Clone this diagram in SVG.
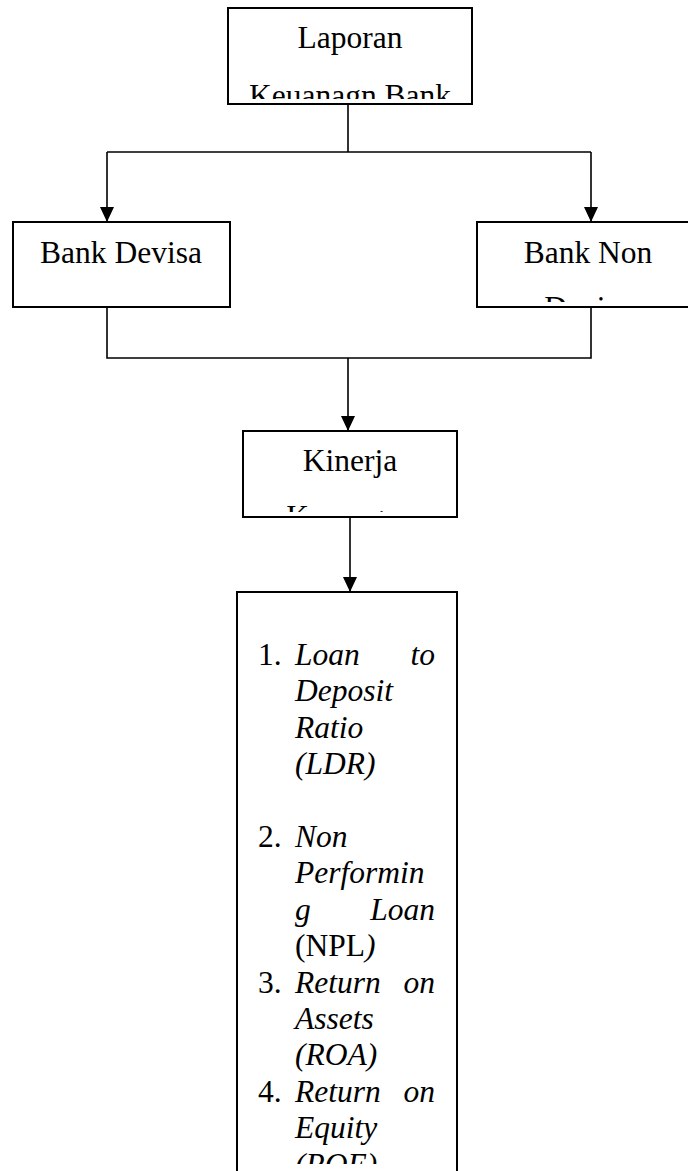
<svg xmlns="http://www.w3.org/2000/svg" width="688" height="1171" viewBox="0 0 688 1171">
<style>
.box{fill:#fff;stroke:#000;stroke-width:2}
.t{font-family:"Liberation Serif","Times New Roman",serif;font-size:31.5px;fill:#000}
.c{text-anchor:middle}
.e{text-anchor:end}
.i{font-style:italic}
.ln{fill:none;stroke:#000;stroke-width:1.6}
</style>
<defs>
<marker id="arr" viewBox="0 0 15 14" refX="15" refY="7" markerWidth="15" markerHeight="14" markerUnits="userSpaceOnUse" orient="auto">
<path d="M0,0 L15,7 L0,14 z" fill="#000"/>
</marker>
<clipPath id="cTop"><rect x="229" y="9" width="242" height="90"/></clipPath>
<clipPath id="cNon"><rect x="478" y="223" width="220" height="79"/></clipPath>
<clipPath id="cKin"><rect x="244" y="432" width="212" height="80"/></clipPath>
<clipPath id="cList"><rect x="238" y="593" width="218" height="571"/></clipPath>
</defs>
<rect width="688" height="1171" fill="#fff"/>
<g id="connectors">
<path class="ln" d="M348,104 V152 M107,152 H591"/>
<path class="ln" d="M107,152 V222" marker-end="url(#arr)"/>
<path class="ln" d="M591,152 V222" marker-end="url(#arr)"/>
<path class="ln" d="M107,307 V358 H591 V307"/>
<path class="ln" d="M348,358 V431" marker-end="url(#arr)"/>
<path class="ln" d="M350,517 V592" marker-end="url(#arr)"/>
</g>
<g id="laporan">
<rect class="box" x="228" y="8" width="244" height="96"/>
<g clip-path="url(#cTop)">
<text class="t c" x="350" y="48">Laporan</text>
<text class="t c" x="350" y="106">Keuanagn Bank</text>
</g>
</g>
<g id="bank-devisa">
<rect class="box" x="13" y="222" width="217" height="85"/>
<text class="t c" x="121" y="263">Bank Devisa</text>
</g>
<g id="bank-non-devisa">
<rect class="box" x="477" y="222" width="230" height="85"/>
<g clip-path="url(#cNon)">
<text class="t c" x="588" y="263">Bank Non</text>
<text class="t c" x="588" y="318">Devisa</text>
</g>
</g>
<g id="kinerja">
<rect class="box" x="243" y="431" width="214" height="86"/>
<g clip-path="url(#cKin)">
<text class="t c" x="350" y="471">Kinerja</text>
<text class="t c" x="350" y="527">Keuangan</text>
</g>
</g>
<g id="indikator">
<rect class="box" x="237" y="592" width="220" height="582"/>
<g clip-path="url(#cList)">
<text class="t" x="258" y="665">1.</text>
<text class="t i" x="295" y="665">Loan</text>
<text class="t i e" x="435" y="665">to</text>
<text class="t i" x="295" y="701.4">Deposit</text>
<text class="t i" x="295" y="737.8">Ratio</text>
<text class="t i" x="295" y="774.2">(LDR)</text>
<text class="t" x="258" y="847">2.</text>
<text class="t i" x="295" y="847">Non</text>
<text class="t i" x="295" y="883.4">Performin</text>
<text class="t i" x="295" y="919.8">g</text>
<text class="t i e" x="435" y="919.8">Loan</text>
<text class="t" x="295" y="956.2">(NPL<tspan class="i">)</tspan></text>
<text class="t" x="258" y="992.6">3.</text>
<text class="t i" x="295" y="992.6">Return</text>
<text class="t i e" x="435" y="992.6">on</text>
<text class="t i" x="295" y="1029">Assets</text>
<text class="t i" x="295" y="1065.4">(ROA)</text>
<text class="t" x="258" y="1101.8">4.</text>
<text class="t i" x="295" y="1101.8">Return</text>
<text class="t i e" x="435" y="1101.8">on</text>
<text class="t i" x="295" y="1138.2">Equity</text>
<text class="t i" x="295" y="1174.6">(ROE)</text>
</g>
</g>
</svg>
